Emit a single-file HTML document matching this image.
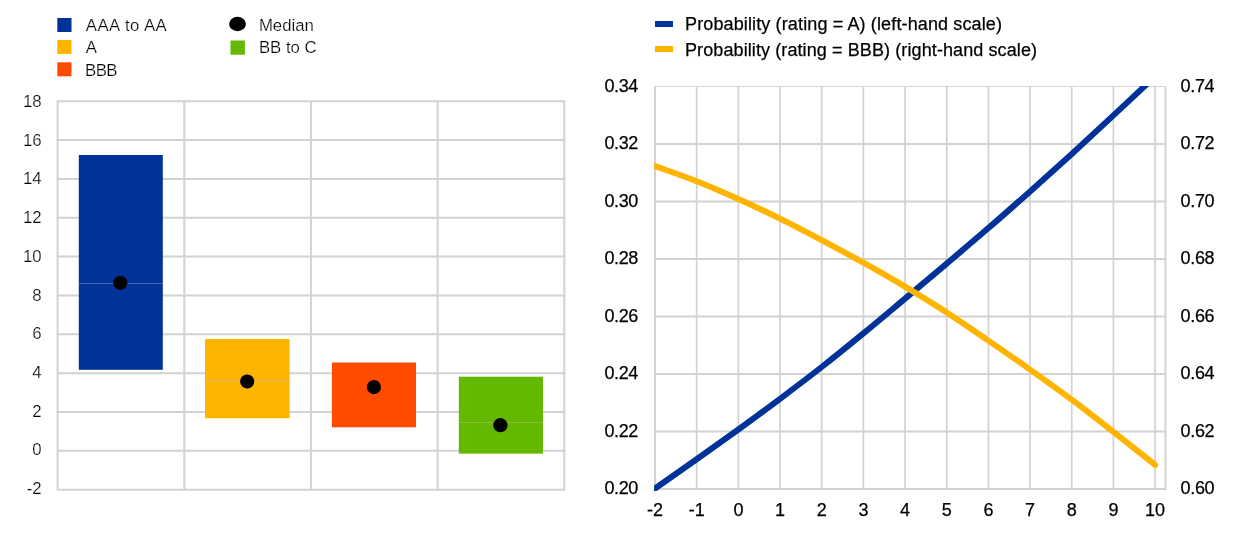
<!DOCTYPE html>
<html lang="en"><head><meta charset="utf-8"><title>Charts</title>
<style>
html,body{margin:0;padding:0;background:#fff;}
svg{display:block;}
g.tx{filter:grayscale(1);}
text{font-family:"Liberation Sans",Arial,Helvetica,sans-serif;fill:#000;}
.l{font-size:16.8px;stroke:#fff;stroke-width:0.24px;}
.r{font-size:18px;stroke:#000;stroke-width:0.25px;}
.n{letter-spacing:-0.35px;}
</style></head><body>
<svg width="1240" height="552" viewBox="0 0 1240 552">
<rect x="0" y="0" width="1240" height="552" fill="#fff"/>
<g id="left-chart">
<g stroke="#d2d2d2" stroke-width="2" fill="none">
<line x1="56.6" y1="101.20" x2="565.3" y2="101.20"/>
<line x1="56.6" y1="140.05" x2="565.3" y2="140.05"/>
<line x1="56.6" y1="178.90" x2="565.3" y2="178.90"/>
<line x1="56.6" y1="217.75" x2="565.3" y2="217.75"/>
<line x1="56.6" y1="256.60" x2="565.3" y2="256.60"/>
<line x1="56.6" y1="295.45" x2="565.3" y2="295.45"/>
<line x1="56.6" y1="334.30" x2="565.3" y2="334.30"/>
<line x1="56.6" y1="373.15" x2="565.3" y2="373.15"/>
<line x1="56.6" y1="412.00" x2="565.3" y2="412.00"/>
<line x1="56.6" y1="450.85" x2="565.3" y2="450.85"/>
<line x1="56.6" y1="489.70" x2="565.3" y2="489.70"/>
<line x1="57.60" y1="101.2" x2="57.60" y2="489.7"/>
<line x1="184.27" y1="101.2" x2="184.27" y2="489.7"/>
<line x1="310.95" y1="101.2" x2="310.95" y2="489.7"/>
<line x1="437.62" y1="101.2" x2="437.62" y2="489.7"/>
<line x1="564.30" y1="101.2" x2="564.30" y2="489.7"/>
</g>
<rect x="78.8" y="155.0" width="84.0" height="214.8" fill="#003299"/>
<line x1="78.8" y1="283.5" x2="162.8" y2="283.5" stroke="#4766ab" stroke-width="1"/>
<rect x="205.0" y="339.1" width="84.6" height="79.2" fill="#FFB400"/>
<line x1="205.0" y1="381.5" x2="289.6" y2="381.5" stroke="#e6b850" stroke-width="1"/>
<rect x="331.9" y="362.5" width="84.1" height="64.8" fill="#FF4B00"/>
<rect x="458.8" y="376.7" width="84.2" height="76.9" fill="#65B800"/>
<line x1="458.8" y1="422.5" x2="543.0" y2="422.5" stroke="#86bd4a" stroke-width="1"/>
<circle cx="120.3" cy="282.8" r="7.1" fill="#000"/>
<circle cx="247.2" cy="381.5" r="7.1" fill="#000"/>
<circle cx="373.9" cy="387.1" r="7.1" fill="#000"/>
<circle cx="500.4" cy="425.2" r="7.1" fill="#000"/>
<rect x="57.3" y="18" width="14.2" height="14" fill="#003299"/>
<rect x="57.3" y="40" width="14.2" height="14" fill="#FFB400"/>
<rect x="57.3" y="62.3" width="14.2" height="14" fill="#FF4B00"/>
<ellipse cx="237.5" cy="24" rx="8.4" ry="7.2" fill="#000"/>
<rect x="230.5" y="40.5" width="14.4" height="14.2" fill="#65B800"/>
<g class="tx">
<text class="l" x="41.6" y="106.9" text-anchor="end">18</text>
<text class="l" x="41.6" y="145.6" text-anchor="end">16</text>
<text class="l" x="41.6" y="184.3" text-anchor="end">14</text>
<text class="l" x="41.6" y="223.0" text-anchor="end">12</text>
<text class="l" x="41.6" y="261.7" text-anchor="end">10</text>
<text class="l" x="41.6" y="300.5" text-anchor="end">8</text>
<text class="l" x="41.6" y="339.2" text-anchor="end">6</text>
<text class="l" x="41.6" y="377.9" text-anchor="end">4</text>
<text class="l" x="41.6" y="416.6" text-anchor="end">2</text>
<text class="l" x="41.6" y="455.3" text-anchor="end">0</text>
<text class="l" x="41.6" y="494.0" text-anchor="end">-2</text>
<text class="l" x="85.8" y="31" textLength="81" lengthAdjust="spacing">AAA to AA</text>
<text class="l" x="85.8" y="52.6">A</text>
<text class="l" x="85" y="76.3" textLength="32.5" lengthAdjust="spacing">BBB</text>
<text class="l" x="258.9" y="30.8">Median</text>
<text class="l" x="258.9" y="52.5">BB to C</text>
</g>
</g>
<g id="right-chart">
<clipPath id="gc"><rect x="654.0" y="86" width="512.7" height="404.9"/></clipPath>
<g stroke="#d2d2d2" stroke-width="2" fill="none" clip-path="url(#gc)">
<line x1="654.0" y1="86.5" x2="1166.1" y2="86.5" stroke-width="1" stroke="#d6d6d6"/>
<line x1="654.0" y1="143.99" x2="1166.5" y2="143.99"/>
<line x1="654.0" y1="201.47" x2="1166.5" y2="201.47"/>
<line x1="654.0" y1="258.96" x2="1166.5" y2="258.96"/>
<line x1="654.0" y1="316.44" x2="1166.5" y2="316.44"/>
<line x1="654.0" y1="373.93" x2="1166.5" y2="373.93"/>
<line x1="654.0" y1="431.41" x2="1166.5" y2="431.41"/>
<line x1="654.0" y1="488.90" x2="1166.5" y2="488.90"/>
<line x1="655.00" y1="86.5" x2="655.00" y2="488.9"/>
<line x1="696.67" y1="86.5" x2="696.67" y2="488.9" stroke-width="1.7"/>
<line x1="738.35" y1="86.5" x2="738.35" y2="488.9" stroke-width="1.7"/>
<line x1="780.02" y1="86.5" x2="780.02" y2="488.9" stroke-width="1.7"/>
<line x1="821.70" y1="86.5" x2="821.70" y2="488.9" stroke-width="1.7"/>
<line x1="863.38" y1="86.5" x2="863.38" y2="488.9" stroke-width="1.7"/>
<line x1="905.05" y1="86.5" x2="905.05" y2="488.9" stroke-width="1.7"/>
<line x1="946.72" y1="86.5" x2="946.72" y2="488.9" stroke-width="1.7"/>
<line x1="988.40" y1="86.5" x2="988.40" y2="488.9" stroke-width="1.7"/>
<line x1="1030.08" y1="86.5" x2="1030.08" y2="488.9" stroke-width="1.7"/>
<line x1="1071.75" y1="86.5" x2="1071.75" y2="488.9" stroke-width="1.7"/>
<line x1="1113.42" y1="86.5" x2="1113.42" y2="488.9" stroke-width="1.7"/>
<line x1="1155.10" y1="86.5" x2="1155.10" y2="488.9" stroke-width="1.7"/>
<line x1="1165.5" y1="86.5" x2="1165.5" y2="488.9"/>
</g>
<clipPath id="pc"><rect x="654.1" y="86" width="512.5" height="405.0"/></clipPath>
<g clip-path="url(#pc)" fill="none" stroke-linecap="round" stroke-linejoin="round">
<path d="M655.00,488.50 C661.95,483.63 682.78,469.13 696.67,459.30 C710.57,449.47 724.46,439.58 738.35,429.50 C752.24,419.42 766.13,409.22 780.02,398.80 C793.92,388.38 807.81,377.90 821.70,367.00 C835.59,356.10 849.48,344.80 863.38,333.40 C877.27,322.00 891.16,310.23 905.05,298.60 C918.94,286.97 932.83,275.35 946.72,263.60 C960.62,251.85 974.51,240.13 988.40,228.10 C1002.29,216.07 1016.18,203.77 1030.08,191.40 C1043.97,179.03 1057.86,166.57 1071.75,153.90 C1085.64,141.23 1099.53,128.32 1113.42,115.40 C1127.32,102.48 1148.15,82.90 1155.10,76.40" stroke="#003299" stroke-width="6"/>
<path d="M655.00,166.10 C661.95,168.62 682.78,175.72 696.67,181.20 C710.57,186.68 724.46,192.77 738.35,199.00 C752.24,205.23 766.13,211.75 780.02,218.60 C793.92,225.45 807.81,232.75 821.70,240.10 C835.59,247.45 849.48,254.95 863.38,262.70 C877.27,270.45 891.16,278.32 905.05,286.60 C918.94,294.88 932.83,303.40 946.72,312.40 C960.62,321.40 974.51,331.07 988.40,340.60 C1002.29,350.13 1016.18,359.75 1030.08,369.60 C1043.97,379.45 1057.86,389.32 1071.75,399.70 C1085.64,410.08 1099.53,421.05 1113.42,431.90 C1127.32,442.75 1148.15,459.32 1155.10,464.80" stroke="#FFB400" stroke-width="6"/>
</g>
<rect x="655" y="21" width="18" height="6" fill="#003299"/>
<rect x="655" y="46" width="18" height="6" fill="#FFB400"/>
<g class="tx">
<text class="r n" x="604.4" y="91.8">0.34</text>
<text class="r n" x="1180.6" y="91.8">0.74</text>
<text class="r n" x="604.4" y="149.2">0.32</text>
<text class="r n" x="1180.6" y="149.2">0.72</text>
<text class="r n" x="604.4" y="206.7">0.30</text>
<text class="r n" x="1180.6" y="206.7">0.70</text>
<text class="r n" x="604.4" y="264.1">0.28</text>
<text class="r n" x="1180.6" y="264.1">0.68</text>
<text class="r n" x="604.4" y="321.6">0.26</text>
<text class="r n" x="1180.6" y="321.6">0.66</text>
<text class="r n" x="604.4" y="379.0">0.24</text>
<text class="r n" x="1180.6" y="379.0">0.64</text>
<text class="r n" x="604.4" y="436.5">0.22</text>
<text class="r n" x="1180.6" y="436.5">0.62</text>
<text class="r n" x="604.4" y="493.9">0.20</text>
<text class="r n" x="1180.6" y="493.9">0.60</text>
<text class="r" x="655.0" y="515.6" text-anchor="middle">-2</text>
<text class="r" x="696.7" y="515.6" text-anchor="middle">-1</text>
<text class="r" x="738.4" y="515.6" text-anchor="middle">0</text>
<text class="r" x="780.0" y="515.6" text-anchor="middle">1</text>
<text class="r" x="821.7" y="515.6" text-anchor="middle">2</text>
<text class="r" x="863.4" y="515.6" text-anchor="middle">3</text>
<text class="r" x="905.0" y="515.6" text-anchor="middle">4</text>
<text class="r" x="946.7" y="515.6" text-anchor="middle">5</text>
<text class="r" x="988.4" y="515.6" text-anchor="middle">6</text>
<text class="r" x="1030.1" y="515.6" text-anchor="middle">7</text>
<text class="r" x="1071.8" y="515.6" text-anchor="middle">8</text>
<text class="r" x="1113.4" y="515.6" text-anchor="middle">9</text>
<text class="r" x="1155.1" y="515.6" text-anchor="middle">10</text>
<text class="r" x="685" y="29.9" textLength="317" lengthAdjust="spacing">Probability (rating = A) (left-hand scale)</text>
<text class="r" x="685" y="55.5" textLength="352" lengthAdjust="spacing">Probability (rating = BBB) (right-hand scale)</text>
</g>
</g>
</svg></body></html>
